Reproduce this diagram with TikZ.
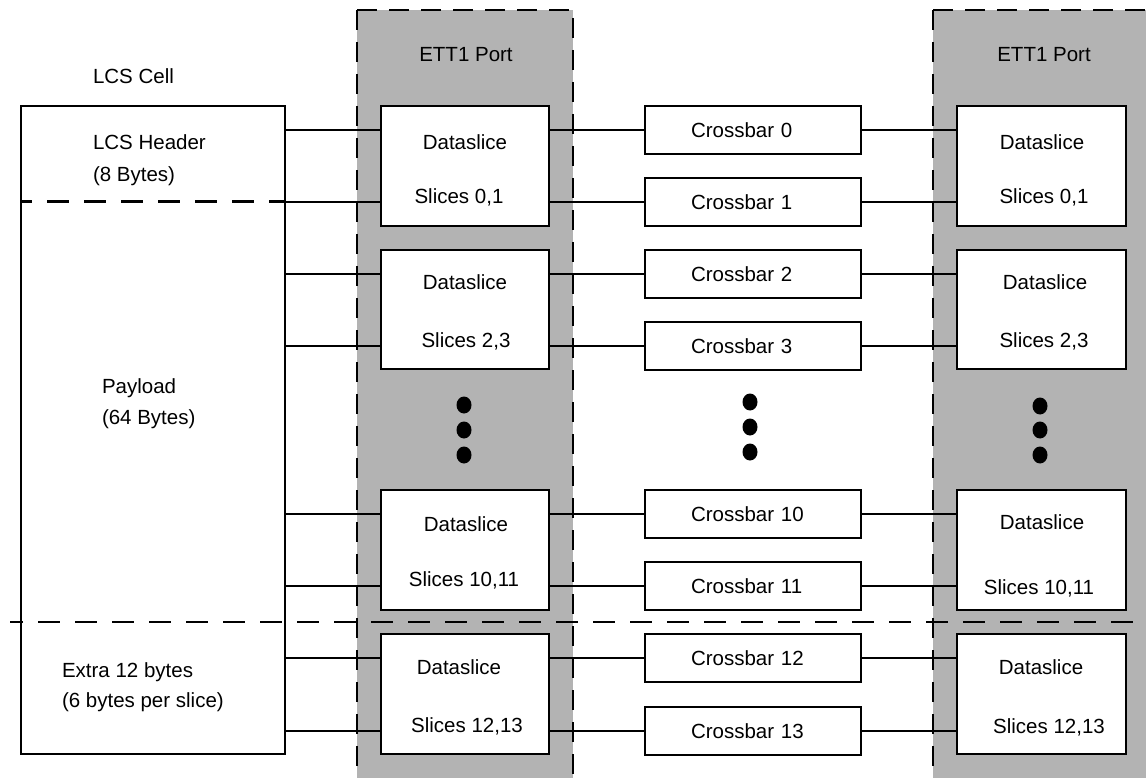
\documentclass[tikz,border=0pt]{standalone}
\usepackage{fontspec}
\setmainfont{Liberation Sans}
\usetikzlibrary{calc}
\definecolor{portgray}{RGB}{179,179,179}
\begin{document}
\begin{tikzpicture}[x=1pt,y=-1pt,line width=2pt,
  txt/.style={font=\fontsize{20.5}{24}\selectfont,inner sep=0pt},
  portedge/.style={line width=2.5pt,dash pattern=on 20pt off 12pt},
  sepline/.style={line width=2.5pt,dash pattern=on 22pt off 15pt},
  lcsbox/.style={draw,minimum width=264pt,minimum height=648pt,inner sep=0pt},
  dsbox/.style={draw,fill=white,minimum width=168pt,minimum height=120pt,inner sep=0pt},
  cbbox/.style={draw,fill=white,txt,minimum height=48pt,inner ysep=0pt,inner xsep=46pt,text width=124pt,align=left},
  conn/.style={draw},
  dotmark/.style={fill=black}]
\useasboundingbox (0,0) rectangle (1146,778);

% ports (grey columns)
\fill[portgray] (357,10) rectangle (573,778);
\fill[portgray] (933,10) rectangle (1146,778);
\coordinate (pL1) at (357,778);
\coordinate (pL2) at (357,10);
\coordinate (pL3) at (573,10);
\coordinate (pL4) at (573,778);
\coordinate (pR1) at (933,778);
\coordinate (pR2) at (933,10);
\coordinate (pR3) at (1150,10);
\draw[portedge] (pL2) -- (pL1);
\draw[portedge] (pL2) -- (pL3) -- (pL4);
\draw[portedge] (pR2) -- (pR1);
\draw[portedge] (pR2) -- (pR3);
\node[txt,anchor=base] (portL) at (466,62) {ETT1 Port};
\node[txt,anchor=base] (portR) at (1044,62) {ETT1 Port};

% LCS cell
\node[txt,anchor=base west] (lcscell) at (92,84) {LCS Cell};
\node[lcsbox] (lcs) at (153,430) {};
\node[txt,anchor=base west] (hdr1) at (92,150) {LCS Header};
\node[txt,anchor=base west] (hdr2) at (92,182) {(8 Bytes)};
\node[txt,anchor=base west] (pay1) at (101,393) {Payload};
\node[txt,anchor=base west] (pay2) at (101,424) {(64 Bytes)};
\node[txt,anchor=base west] (ext1) at (61,677) {Extra 12 bytes};
\node[txt,anchor=base west] (ext2) at (61,707) {(6 bytes per slice)};

% left dataslices
\node[dsbox] (dl01) at (465,166) {};
\node[dsbox,minimum height=119pt] (dl23) at (465,309.5) {};
\node[dsbox] (dl1011) at (465,550) {};
\node[dsbox] (dl1213) at (465,694) {};
% right dataslices
\node[dsbox,minimum width=169pt] (dr01) at (1041.5,166) {};
\node[dsbox,minimum width=169pt,minimum height=119pt] (dr23) at (1041.5,309.5) {};
\node[dsbox,minimum width=169pt] (dr1011) at (1041.5,550) {};
\node[dsbox,minimum width=169pt] (dr1213) at (1041.5,694) {};

% dataslice labels
\node[txt,anchor=base] (tl0a) at (465,150) {Dataslice};
\node[txt,anchor=base] (tl0b) at (459,204) {Slices 0,1};
\node[txt,anchor=base] (tl1a) at (465,289) {Dataslice};
\node[txt,anchor=base] (tl1b) at (466,347) {Slices 2,3};
\node[txt,anchor=base] (tl5a) at (466,531) {Dataslice};
\node[txt,anchor=base] (tl5b) at (464,586) {Slices 10,11};
\node[txt,anchor=base] (tl6a) at (459,674) {Dataslice};
\node[txt,anchor=base] (tl6b) at (467,732) {Slices 12,13};
\node[txt,anchor=base] (tr0a) at (1042,150) {Dataslice};
\node[txt,anchor=base] (tr0b) at (1044,204) {Slices 0,1};
\node[txt,anchor=base] (tr1a) at (1045,289) {Dataslice};
\node[txt,anchor=base] (tr1b) at (1044,347) {Slices 2,3};
\node[txt,anchor=base] (tr5a) at (1042,529) {Dataslice};
\node[txt,anchor=base] (tr5b) at (1039,594) {Slices 10,11};
\node[txt,anchor=base] (tr6a) at (1041,674) {Dataslice};
\node[txt,anchor=base] (tr6b) at (1049,733) {Slices 12,13};

% crossbars
\node[cbbox] (cb0) at (753,130) {Crossbar 0};
\node[cbbox] (cb1) at (753,201.7) {Crossbar 1};
\node[cbbox] (cb2) at (753,274) {Crossbar 2};
\node[cbbox] (cb3) at (753,346) {Crossbar 3};
\node[cbbox] (cb10) at (753,514) {Crossbar 10};
\node[cbbox] (cb11) at (753,586) {Crossbar 11};
\node[cbbox] (cb12) at (753,658) {Crossbar 12};
\node[cbbox] (cb13) at (753,731) {Crossbar 13};

% connectors
\foreach \c/\d in {0/01,1/01,2/23,3/23,10/1011,11/1011,12/1213,13/1213}{
  \draw[conn] (lcs.east |- cb\c) -- (dl\d.west |- cb\c);
  \draw[conn] (dl\d.east |- cb\c) -- (cb\c.west);
  \draw[conn] (cb\c.east) -- (dr\d.west |- cb\c);
}

% dots
\foreach \x/\y in {464/405,464/430,464/455,750/402,750/427,750/452,1040/406,1040/430,1040/455}{
  \fill[dotmark] (\x,\y) ellipse [x radius=7.5pt,y radius=8.5pt];
}

% dashed separators
\coordinate (sepA) at (21,201.7);
\coordinate (sepB) at (285,201.7);
\draw[sepline,dash phase=11pt] (sepA) -- (sepB);
\coordinate (sepC) at (10,622);
\coordinate (sepD) at (1146,622);
\draw[sepline,dash phase=9pt] (sepC) -- (sepD);
\end{tikzpicture}
\end{document}
